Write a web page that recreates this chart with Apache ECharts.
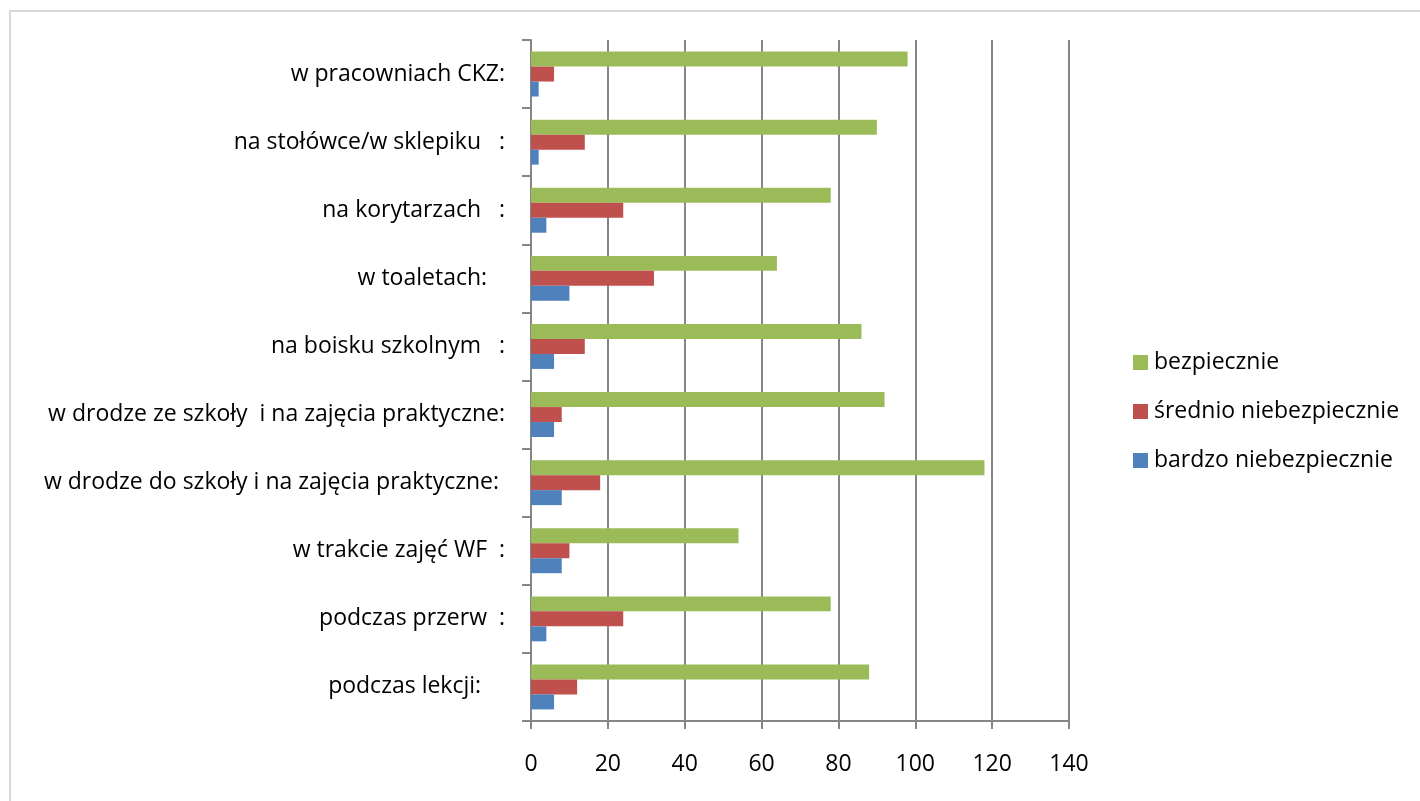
<!DOCTYPE html>
<html>
<head>
<meta charset="utf-8">
<script src="https://cdn.jsdelivr.net/npm/echarts@6/dist/echarts.min.js"></script>
<style>
  html, body { margin: 0; padding: 0; background: #fff; overflow: hidden; }
  #frame { position: absolute; left: 9px; top: 10px; width: 1500px; height: 900px; border: 2px solid #d9d9d9; box-sizing: border-box; }
  #chart { position: absolute; left: 0; top: 0; width: 1420px; height: 801px; }
</style>
</head>
<body>
<div id="frame"></div>
<div id="chart"></div>
<script>
// categories listed bottom -> top (as the category axis draws them)
const places = [
  'podczas lekcji:\u00a0\u00a0\u00a0\u00a0',
  'podczas przerw\u00a0\u00a0:',
  'w trakcie zajęć WF\u00a0\u00a0:',
  'w drodze do szkoły i na zajęcia praktyczne:\u00a0',
  'w drodze ze szkoły\u00a0\u00a0i na zajęcia praktyczne:',
  'na boisku szkolnym\u00a0\u00a0\u00a0:',
  'w toaletach:\u00a0\u00a0\u00a0',
  'na korytarzach\u00a0\u00a0\u00a0:',
  'na stołówce/w sklepiku\u00a0\u00a0\u00a0:',
  'w pracowniach CKZ:'
];
const bardzo = [6, 4, 8, 8, 6, 6, 10, 4, 2, 2];
const srednio = [12, 24, 10, 18, 8, 14, 32, 24, 14, 6];
const bezpiecznie = [88, 78, 54, 118, 92, 86, 64, 78, 90, 98];
const xTicks = { min: 0, max: 140, interval: 20 };

const font = '"Open Sans", Lato, sans-serif';
const axisGray = '#868686';

const chart = echarts.init(document.getElementById('chart'), null, { renderer: 'canvas' });
chart.setOption({
  backgroundColor: 'transparent',
  animation: false,
  textStyle: { fontFamily: font },
  grid: { left: 531, right: 351, top: 40, bottom: 80, containLabel: false },
  legend: {
    orient: 'vertical',
    left: 1128,
    top: 346,
    itemWidth: 15,
    itemHeight: 15,
    itemGap: 26,
    icon: 'rect',
    data: ['bezpiecznie', 'średnio niebezpiecznie', 'bardzo niebezpiecznie'],
    textStyle: { fontSize: 23, color: '#000', fontFamily: font, padding: [0, 0, 0, 1] }
  },
  xAxis: {
    type: 'value',
    min: xTicks.min,
    max: xTicks.max,
    interval: xTicks.interval,
    axisLine: { show: true, lineStyle: { color: axisGray, width: 2 } },
    axisTick: { show: true, length: 8, lineStyle: { color: axisGray, width: 2 } },
    axisLabel: { fontSize: 23, color: '#000', margin: 32, fontFamily: font },
    splitLine: { show: true, lineStyle: { color: axisGray, width: 2 } }
  },
  yAxis: {
    type: 'category',
    data: places,
    axisLine: { show: true, lineStyle: { color: axisGray, width: 2 } },
    axisTick: { show: true, length: 9, interval: 0, lineStyle: { color: axisGray, width: 2 } },
    axisLabel: { fontSize: 23, color: '#000', margin: 26, interval: 0, fontFamily: font },
    splitLine: { show: false }
  },
  series: [
    { name: 'bezpiecznie', type: 'bar', data: bezpiecznie, itemStyle: { color: '#9bbb59' }, barGap: '0%', barCategoryGap: '34%' },
    { name: 'średnio niebezpiecznie', type: 'bar', data: srednio, itemStyle: { color: '#c0504d' }, barGap: '0%', barCategoryGap: '34%' },
    { name: 'bardzo niebezpiecznie', type: 'bar', data: bardzo, itemStyle: { color: '#4f81bd' }, barGap: '0%', barCategoryGap: '34%' }
  ]
});
</script>
</body>
</html>
